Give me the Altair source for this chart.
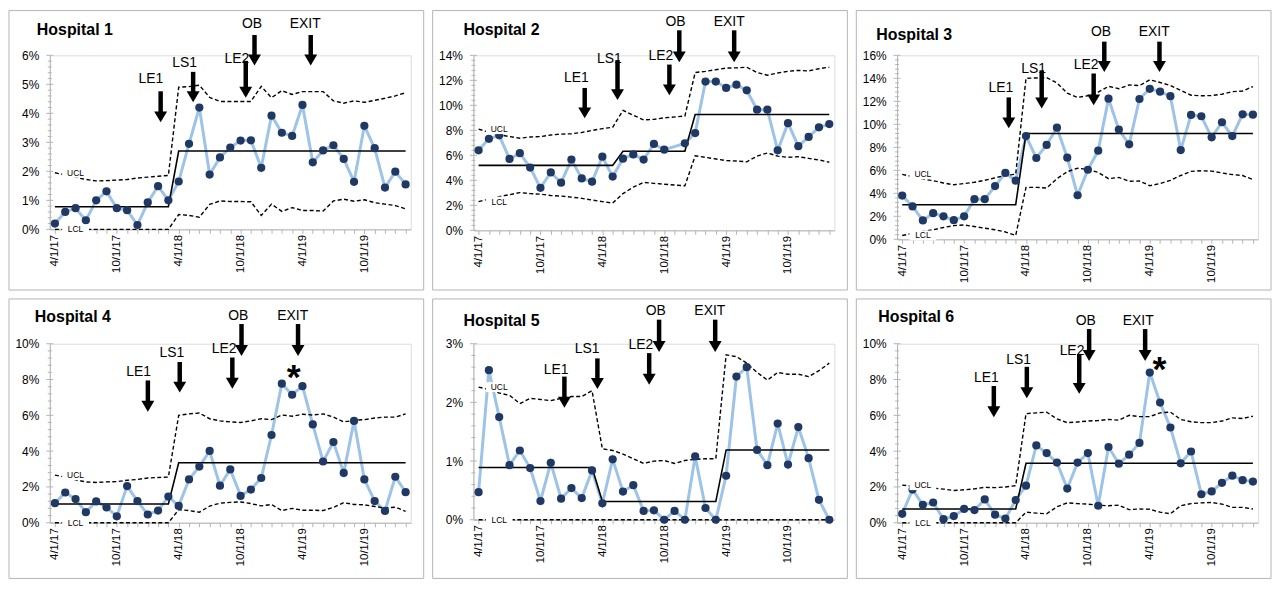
import altair as alt
import pandas as pd

FONT = "Liberation Sans"
GRAY = "#b4b4b4"
LINE_BLUE = "#9dc3e6"
DOT_NAVY = "#1f3864"

months = ["4/1/17", "5/1/17", "6/1/17", "7/1/17", "8/1/17", "9/1/17", "10/1/17", "11/1/17",
          "12/1/17", "1/1/18", "2/1/18", "3/1/18", "4/1/18", "5/1/18", "6/1/18", "7/1/18",
          "8/1/18", "9/1/18", "10/1/18", "11/1/18", "12/1/18", "1/1/19", "2/1/19", "3/1/19",
          "4/1/19", "5/1/19", "6/1/19", "7/1/19", "8/1/19", "9/1/19", "10/1/19", "11/1/19",
          "12/1/19", "1/1/20", "2/1/20"]
labeled_months = ["4/1/17", "10/1/17", "4/1/18", "10/1/18", "4/1/19", "10/1/19"]

hospitals = ["Hospital 1", "Hospital 2", "Hospital 3", "Hospital 4", "Hospital 5", "Hospital 6"]
events = ["LE1", "LS1", "LE2", "OB", "EXIT"]

# ---------------- Hospital 1 ----------------
h1_rate = [0.20, 0.60, 0.73, 0.31, 1.00, 1.31, 0.73, 0.66, 0.15, 0.93, 1.49, 1.00,
           1.65, 2.95, 4.20, 1.89, 2.48, 2.82, 3.06, 3.07, 2.12, 3.92, 3.33, 3.22,
           4.29, 2.31, 2.72, 2.90, 2.43, 1.64, 3.57, 2.80, 1.44, 1.99, 1.55]
h1_cl = [0.78] * 12 + [2.70] * 23
h1_ucl = [1.95, 1.88, 1.80, 1.72, 1.67, 1.68, 1.70, 1.72, 1.77, 1.80, 1.83, 1.86,
          4.90, 4.92, 4.97, 4.55, 4.41, 4.41, 4.41, 4.41, 4.93, 4.54, 4.78, 4.65,
          4.75, 4.75, 4.75, 4.43, 4.35, 4.43, 4.38, 4.45, 4.52, 4.60, 4.71]
h1_lcl = [0.0] * 12 + [0.51, 0.48, 0.42, 0.86, 0.98, 0.96, 0.96, 0.95, 0.48, 0.87, 0.62, 0.75,
                       0.65, 0.65, 0.63, 0.98, 1.04, 0.97, 1.02, 0.92, 0.87, 0.82, 0.71]
h1_arrow_x = [10.25, 13.4, 18.5, 19.35, 24.8]
h1_arrow_top = [4.76, 5.43, 5.81, 6.70, 6.70]
h1_arrow_tip = [3.69, 4.38, 4.54, 5.65, 5.65]
h1_label_x = [9.31, 12.57, 17.64, 19.1, 24.27]
h1_label_y = [5.20, 5.72, 5.87, 7.08, 7.08]

# ---------------- Hospital 2 ----------------
h2_rate = [6.40, 7.32, 7.60, 5.71, 6.17, 5.02, 3.40, 4.63, 3.81, 5.66, 4.15, 3.89,
           5.89, 4.30, 5.73, 6.07, 5.66, 6.91, 6.45, None, 6.96, 7.78, 11.90, 11.90,
           11.39, 11.65, 11.20, 9.65, 9.65, 6.40, 8.57, 6.73, 7.47, 8.24, 8.50]
h2_cl = [5.20] * 14 + [6.33] * 5 + [None] + [6.33] + [9.27] * 14
h2_ucl = [8.10, 7.85, 7.65, 7.50, 7.37, 7.47, 7.50, 7.63, 7.70, 7.73, 7.83, 7.99,
          8.14, 8.24, 9.60, 9.21, 8.83, 8.88, 9.00, None, 9.14, 12.62, 12.72, 12.85,
          12.98, 13.00, 13.05, 12.62, 12.41, 12.59, 12.72, 12.80, 12.75, 12.93, 13.05]
h2_lcl = [2.30, 2.50, 2.70, 2.85, 3.02, 2.94, 2.89, 2.79, 2.74, 2.66, 2.56, 2.43,
          2.30, 2.18, 2.94, 3.46, 3.84, 3.76, 3.69, None, 3.56, 5.96, 5.84, 5.71,
          5.58, 5.55, 5.48, 5.94, 6.19, 5.94, 5.84, 5.89, 5.76, 5.63, 5.45]
h2_arrow_x = [10.29, 13.47, 18.5, 19.46, 24.78]
h2_arrow_top = [11.39, 13.62, 13.26, 16.0, 16.0]
h2_arrow_tip = [8.96, 10.42, 10.80, 13.44, 13.44]
h2_label_x = [9.49, 12.68, 17.68, 19.1, 24.3]
h2_label_y = [12.16, 13.69, 13.95, 16.64, 16.64]

# ---------------- Hospital 3 ----------------
h3_rate = [3.80, 2.86, 1.64, 2.27, 2.00, 1.66, 2.00, 3.49, 3.49, 4.63, 5.77, 5.10,
           8.98, 7.07, 8.21, 9.71, 7.10, 3.83, 6.05, 7.71, 12.23, 9.54, 8.26, 12.20,
           13.09, 12.84, 12.45, 7.76, 10.82, 10.70, 8.87, 10.18, 8.98, 10.87, 10.84]
h3_cl = [3.00] * 12 + [9.20] * 23
h3_ucl = [5.65, 5.45, 5.25, 5.10, 4.90, 4.74, 4.85, 4.96, 5.13, 5.35, 5.55, 5.66,
          14.00, 14.03, 14.06, 13.60, 12.70, 12.34, 12.48, 12.80, 13.30, 13.10, 13.42, 13.37,
          13.87, 13.64, 13.37, 12.95, 12.53, 12.48, 12.50, 12.62, 12.84, 12.90, 13.28]
h3_lcl = [0.33, 0.50, 0.68, 0.83, 1.03, 1.19, 1.25, 1.11, 0.97, 0.83, 0.64, 0.33,
          4.52, 4.52, 4.46, 5.27, 5.88, 6.18, 6.07, 5.82, 5.27, 5.38, 5.05, 5.07,
          4.66, 4.85, 5.13, 5.55, 5.91, 5.96, 5.93, 5.77, 5.63, 5.55, 5.19]
h3_arrow_x = [10.33, 13.52, 18.56, 19.59, 24.94]
h3_arrow_top = [12.34, 14.70, 14.42, 17.19, 17.19]
h3_arrow_tip = [9.65, 11.37, 11.65, 14.56, 14.56]
h3_label_x = [9.57, 12.73, 17.83, 19.27, 24.43]
h3_label_y = [13.17, 14.78, 15.20, 18.03, 18.03]

# ---------------- Hospital 4 ----------------
h4_rate = [1.09, 1.69, 1.32, 0.59, 1.19, 0.86, 0.36, 2.05, 1.21, 0.46, 0.68, 1.46,
           0.94, 2.42, 3.14, 4.01, 2.07, 2.98, 1.50, 1.85, 2.50, 4.90, 7.77, 7.15,
           7.63, 5.49, 3.42, 4.51, 2.78, 5.69, 2.42, 1.21, 0.66, 2.57, 1.71]
h4_cl = [1.05] * 12 + [3.35] * 23
h4_ucl = [2.66, 2.55, 2.40, 2.28, 2.25, 2.28, 2.30, 2.37, 2.42, 2.50, 2.53, 2.55,
          6.00, 6.08, 6.13, 5.81, 5.69, 5.63, 5.60, 5.69, 5.81, 5.76, 6.02, 5.95,
          6.06, 6.02, 6.08, 5.90, 5.63, 5.72, 5.76, 5.85, 5.90, 5.90, 6.08]
h4_lcl = [0.0] * 12 + [0.73, 0.68, 0.59, 0.93, 1.09, 1.14, 1.16, 1.07, 0.94, 1.02, 0.68, 0.80,
                       0.70, 0.70, 0.68, 0.86, 1.12, 1.02, 1.00, 0.91, 0.82, 0.87, 0.64]
h4_arrow_x = [9.01, 12.1, 17.2, 18.09, 23.57]
h4_arrow_top = [7.95, 8.98, 9.23, 11.1, 11.1]
h4_arrow_tip = [6.20, 7.27, 7.49, 9.32, 9.32]
h4_label_x = [8.12, 11.34, 16.4, 17.77, 23.06]
h4_label_y = [8.43, 9.47, 9.73, 11.55, 11.55]

# ---------------- Hospital 5 ----------------
h5_rate = [0.47, 2.55, 1.75, 0.93, 1.18, 0.88, 0.32, 0.97, 0.36, 0.54, 0.37, 0.84,
           0.28, 1.03, 0.48, 0.59, 0.15, 0.16, 0.00, 0.15, 0.00, 1.08, 0.20, 0.00,
           0.75, 2.44, 2.60, 1.19, 0.93, 1.64, 0.94, 1.58, 1.05, 0.34, 0.00]
h5_cl = [0.89] * 12 + [0.31] * 12 + [1.19] * 11
h5_ucl = [2.26, 2.22, 2.16, 2.12, 1.98, 2.07, 2.05, 2.03, 2.07, 2.10, 2.10, 2.20,
          1.21, 1.18, 1.12, 1.04, 0.96, 1.00, 1.01, 0.96, 1.01, 1.03, 1.04, 1.04,
          2.81, 2.78, 2.67, 2.51, 2.38, 2.51, 2.48, 2.48, 2.44, 2.54, 2.67]
h5_lcl = [0.0] * 35
h5_arrow_x = [8.32, 11.52, 16.54, 17.5, 22.94]
h5_arrow_top = [2.44, 2.75, 2.84, 3.41, 3.41]
h5_arrow_tip = [1.91, 2.23, 2.30, 2.86, 2.86]
h5_label_x = [7.52, 10.52, 15.74, 17.18, 22.42]
h5_label_y = [2.56, 2.91, 2.97, 3.56, 3.56]

# ---------------- Hospital 6 ----------------
h6_rate = [0.50, 1.85, 1.00, 1.13, 0.20, 0.37, 0.77, 0.71, 1.30, 0.45, 0.23, 1.27,
           2.07, 4.32, 3.89, 3.36, 1.91, 3.36, 3.89, 0.95, 4.23, 3.30, 3.80, 4.46,
           8.39, 6.71, 5.32, 3.32, 3.98, 1.59, 1.75, 2.23, 2.63, 2.38, 2.30]
h6_cl = [0.77] * 12 + [3.32] * 23
h6_ucl = [2.10, 2.05, 1.98, 1.93, 1.88, 1.80, 1.84, 1.89, 1.98, 1.96, 2.00, 2.07,
          6.09, 6.14, 6.18, 5.80, 5.59, 5.63, 5.68, 5.71, 5.77, 5.73, 6.00, 5.93,
          5.93, 6.14, 6.18, 5.77, 5.64, 5.59, 5.59, 5.68, 5.86, 5.82, 5.95]
h6_lcl = [0.0] * 12 + [0.59, 0.54, 0.50, 0.89, 1.11, 1.07, 1.04, 0.98, 0.95, 0.98, 0.73, 0.77,
                       0.75, 0.59, 0.50, 0.95, 1.07, 1.11, 1.13, 1.04, 0.86, 0.86, 0.77]
h6_arrow_x = [8.88, 12.08, 17.16, 18.12, 23.55]
h6_arrow_top = [7.64, 8.71, 9.43, 10.82, 10.82]
h6_arrow_tip = [5.89, 6.96, 7.20, 9.04, 9.04]
h6_label_x = [8.15, 11.28, 16.46, 17.8, 22.88]
h6_label_y = [8.09, 9.10, 9.57, 11.27, 11.27]

# significance markers (*) : hospital index -> (month position, value)
star_pos = {3: (23.15, 8.66), 5: (24.93, 9.07)}

# axis settings per hospital
y_max = [6, 14, 16, 10, 3, 10]
y_major = [1, 2, 2, 2, 1, 2]
y_minor = [0.2, 0.4, 0.4, 0.4, 0.2, 0.4]

limit_label_month = 2.0

# layout (pixels)
PLOT_W = 363
plot_h = [175, 176, 185, 180, 177, 180]
title_dx = [-13, -10, -21, -15, -10, -19]
title_dy = [-20, -20, -15, -22, -18, -22]
BORDER_L, BORDER_R, BORDER_T, BORDER_B = -41, PLOT_W + 13, -45, 236

series = [
    (h1_rate, h1_cl, h1_ucl, h1_lcl, h1_arrow_x, h1_arrow_top, h1_arrow_tip, h1_label_x, h1_label_y),
    (h2_rate, h2_cl, h2_ucl, h2_lcl, h2_arrow_x, h2_arrow_top, h2_arrow_tip, h2_label_x, h2_label_y),
    (h3_rate, h3_cl, h3_ucl, h3_lcl, h3_arrow_x, h3_arrow_top, h3_arrow_tip, h3_label_x, h3_label_y),
    (h4_rate, h4_cl, h4_ucl, h4_lcl, h4_arrow_x, h4_arrow_top, h4_arrow_tip, h4_label_x, h4_label_y),
    (h5_rate, h5_cl, h5_ucl, h5_lcl, h5_arrow_x, h5_arrow_top, h5_arrow_tip, h5_label_x, h5_label_y),
    (h6_rate, h6_cl, h6_ucl, h6_lcl, h6_arrow_x, h6_arrow_top, h6_arrow_tip, h6_label_x, h6_label_y),
]

label_array = "[" + ",".join("'" + (m if m in labeled_months else "") + "'" for m in months) + "]"
x_label_expr = label_array + "[datum.value]"

BOX_PATH = "M-1.35,-0.5L1.35,-0.5L1.35,0.5L-1.35,0.5Z"
HEAD_PATH = "M-0.65,-1.1L0.65,-1.1L0,0Z"


def build_panel(i):
    rate, cl, ucl, lcl, ax, atop, atip, lx, ly = series[i]
    n = len(months)
    df = pd.DataFrame({"m": list(range(n)), "rate": rate, "cl": cl, "ucl": ucl, "lcl": lcl})
    xs = alt.Scale(domain=[-0.5, n - 0.5], nice=False, zero=False)
    ys = alt.Scale(domain=[0, y_max[i]], nice=False, zero=False)
    majors = list(range(0, y_max[i] + 1, y_major[i]))

    x_axis = alt.Axis(values=list(range(n)), labelExpr=x_label_expr, labelAngle=270,
                      tickSize=4, tickColor=GRAY, domainColor=GRAY, labelFontSize=11.5,
                      labelColor="black", labelFont=FONT, labelPadding=1, grid=False,
                      title=None, labelOverlap=False, labelFlush=False)
    y_axis = alt.Axis(values=majors, labelExpr="datum.value + '%'", tickSize=0,
                      labelPadding=11, domainColor=GRAY, labelFontSize=12,
                      labelColor="black", labelFont=FONT, grid=False, title=None,
                      labelOverlap=False, labelFlush=False)

    def X(f):
        return alt.X(f, type="quantitative", scale=xs, axis=x_axis)

    def Y(f):
        return alt.Y(f, type="quantitative", scale=ys, axis=y_axis)

    nmin = int(round(y_max[i] / y_minor[i]))
    minors = []
    for k in range(nmin + 1):
        v = round(k * y_minor[i], 3)
        r = v / y_major[i]
        if abs(r - round(r)) > 1e-6:
            minors.append(v)

    border = alt.Chart(pd.DataFrame({"k": [0]})).mark_rect(
        filled=False, color=GRAY, strokeWidth=1
    ).encode(x=alt.value(BORDER_L), x2=alt.value(BORDER_R),
             y=alt.value(BORDER_T), y2=alt.value(BORDER_B))

    minor_ticks = alt.Chart(pd.DataFrame({"v": minors})).mark_rule(
        color=GRAY, strokeWidth=1).encode(y=Y("v"), x=alt.value(-2), x2=alt.value(2))
    major_ticks = alt.Chart(pd.DataFrame({"v": majors})).mark_rule(
        color=GRAY, strokeWidth=1).encode(y=Y("v"), x=alt.value(-3.5), x2=alt.value(3.5))

    ucl_line = alt.Chart(df.dropna(subset=["ucl"])).mark_line(
        color="black", strokeWidth=1.4, strokeDash=[4, 2.5]).encode(x=X("m"), y=Y("ucl"))
    lcl_line = alt.Chart(df.dropna(subset=["lcl"])).mark_line(
        color="black", strokeWidth=1.4, strokeDash=[4, 2.5]).encode(x=X("m"), y=Y("lcl"))
    cl_line = alt.Chart(df.dropna(subset=["cl"])).mark_line(
        color="black", strokeWidth=1.6).encode(x=X("m"), y=Y("cl"))

    rdf = df.dropna(subset=["rate"])
    rate_line = alt.Chart(rdf).mark_line(color=LINE_BLUE, strokeWidth=3).encode(
        x=X("m"), y=Y("rate"))
    dots = alt.Chart(rdf).mark_circle(color=DOT_NAVY, size=68, opacity=1).encode(
        x=X("m"), y=Y("rate"))

    ldf = pd.DataFrame({"m": [limit_label_month, limit_label_month],
                        "v": [ucl[0], lcl[0]], "t": ["UCL", "LCL"]})
    boxes = alt.Chart(ldf).mark_point(shape=BOX_PATH, size=400, filled=True, color="white",
                                      opacity=1, strokeWidth=0).encode(x=X("m"), y=Y("v"))
    limit_text = alt.Chart(ldf).mark_text(font=FONT, fontSize=8.5, color="black",
                                          align="center", baseline="middle").encode(
        x=X("m"), y=Y("v"), text="t:N")

    adf = pd.DataFrame({"x": ax, "top": atop, "tip": atip, "lx": lx, "ly": ly, "name": events})
    shafts = alt.Chart(adf).mark_rule(color="black", strokeWidth=4.5, y2Offset=-6).encode(
        x=X("x"), y=Y("top"), y2=alt.Y2("tip"))
    heads = alt.Chart(adf).mark_point(shape=HEAD_PATH, size=400, filled=True, color="black",
                                      opacity=1, strokeWidth=0).encode(x=X("x"), y=Y("tip"))
    alabels = alt.Chart(adf).mark_text(font=FONT, fontSize=14, color="black",
                                       align="center", baseline="middle").encode(
        x=X("lx"), y=Y("ly"), text="name:N")

    title = alt.Chart(pd.DataFrame({"t": [hospitals[i]]})).mark_text(
        font=FONT, fontSize=16, fontWeight="bold", color="black", align="left",
        baseline="alphabetic").encode(x=alt.value(title_dx[i]), y=alt.value(title_dy[i]), text="t:N")

    layers = [border, rate_line, minor_ticks, major_ticks, ucl_line, lcl_line, cl_line, dots,
              boxes, limit_text, shafts, heads, alabels, title]
    if i in star_pos:
        sx, sy = star_pos[i]
        star = alt.Chart(pd.DataFrame({"x": [sx], "y": [sy], "t": ["*"]})).mark_text(
            font=FONT, fontSize=36, fontWeight="bold", color="black", align="center",
            baseline="middle", dy=10).encode(x=X("x"), y=Y("y"), text="t:N")
        layers.append(star)
    return alt.layer(*layers).properties(width=PLOT_W, height=plot_h[i])


panels = [build_panel(i) for i in range(6)]

chart = alt.concat(*panels, columns=3, spacing={"row": 105, "column": 63},
                   bounds="flush").properties(padding=0).configure_view(strokeWidth=0).configure(
    font=FONT, background="white")

chart.save("out.html", embed_options={"renderer": "svg", "actions": False})
